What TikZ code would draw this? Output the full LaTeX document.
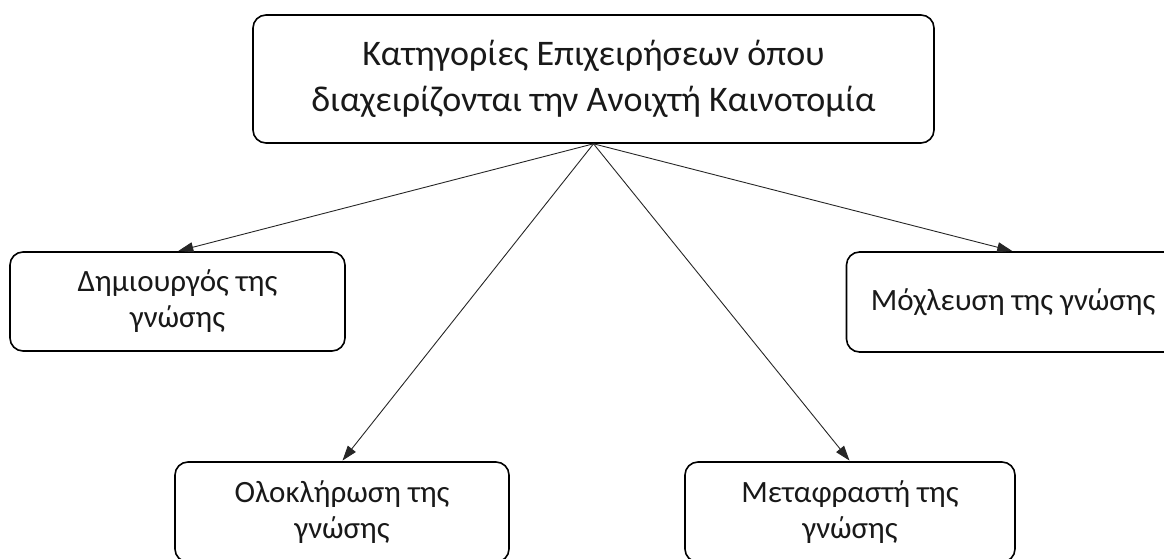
\documentclass[tikz,border=0pt]{standalone}
\usepackage{fontspec}
\setmainfont{Carlito}
\usetikzlibrary{arrows.meta}
\begin{document}
\begin{tikzpicture}[x=1pt,y=1pt,
  box/.style={draw=black, line width=1.6pt, rounded corners=13pt,
    align=center, inner sep=0pt, text=black!90,
    font=\fontsize{31}{36}\selectfont},
  link/.style={draw=black!85, line width=0.9pt,
    -{Triangle[length=15pt,width=10pt]}, shorten >=0.8pt}]
\useasboundingbox (0,0) rectangle (1164,-559);
\clip (0,0) rectangle (1164,-559);

% root category box
\node[box, minimum width=681, minimum height=128,
      font=\fontsize{36}{46}\selectfont] (root) at (593.5,-79)
  {Κατηγορίες Επιχειρήσεων όπου\\διαχειρίζονται την Ανοιχτή Καινοτομία};

% the four kinds of firms
\node[box, minimum width=335, minimum height=99] (create) at (177.5,-301.5)
  {Δημιουργός της\\γνώσης};
\node[box, minimum width=333, minimum height=100] (lever) at (1013,-302)
  {Μόχλευση της γνώσης};
\node[box, minimum width=334, minimum height=100] (integ) at (342,-512)
  {Ολοκλήρωση της\\γνώσης};
\node[box, minimum width=330, minimum height=100] (trans) at (850,-512)
  {Μεταφραστή της\\γνώσης};

\draw[link] (root.south) -- (create.north);
\draw[link] (root.south) -- (lever.north);
\draw[link] (root.south) -- (integ.north);
\draw[link] (root.south) -- (trans.north);
\end{tikzpicture}
\end{document}
